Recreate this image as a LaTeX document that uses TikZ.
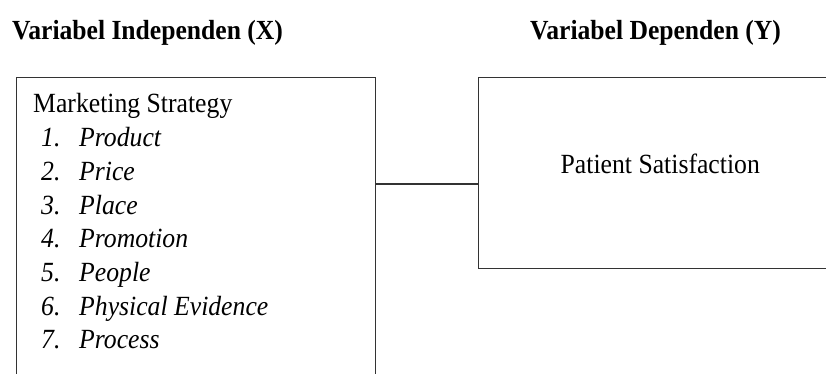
\documentclass[tikz,border=0pt]{standalone}
\usepackage{fontspec}
\usepackage{graphicx}
\setmainfont{Liberation Serif}
\newcommand{\vstretch}[1]{\scalebox{1}[1.08]{#1}}
\begin{document}
\begin{tikzpicture}[x=1pt,y=-1pt,
  boxline/.style={draw=black!80, line width=1.2pt},
  txt/.style={inner sep=0pt, anchor=base west, font=\fontsize{25.7}{30}\selectfont},
  ttl/.style={txt, font=\fontsize{25.6}{30}\selectfont\bfseries},
  itm/.style={txt, font=\fontsize{25.7}{30}\selectfont\itshape}]
\useasboundingbox (0,0) rectangle (826,374);
\clip (0,0) rectangle (826,374);
\node[ttl] (tx) at (12,40) {\vstretch{Variabel Independen (X)}};
\node[ttl] (ty) at (530,40) {\vstretch{Variabel Dependen (Y)}};
\node[boxline, inner sep=0pt, minimum width=359pt, minimum height=330pt, anchor=north west] (xbox) at (16,77) {};
\node[boxline, inner sep=0pt, minimum width=380pt, minimum height=191pt, anchor=north west] (ybox) at (478,77) {};
\coordinate (c) at (0,184);
\draw[boxline] (xbox.east |- c) -- (ybox.west |- c);
\node[txt] (ms) at (33,113) {\vstretch{Marketing Strategy}};
\foreach \n/\t [count=\i from 0] in {1/Product,2/Price,3/Place,4/Promotion,5/People,6/Physical Evidence,7/Process}{
  \node[itm] (num\n) at (41,146.7+33.7*\i) {\vstretch{\n.}};
  \node[itm] (it\n) at (79,146.7+33.7*\i) {\vstretch{\t}};
}
\node[txt] (ps) at (560.5,173.3) {\vstretch{Patient Satisfaction}};
\end{tikzpicture}
\end{document}
